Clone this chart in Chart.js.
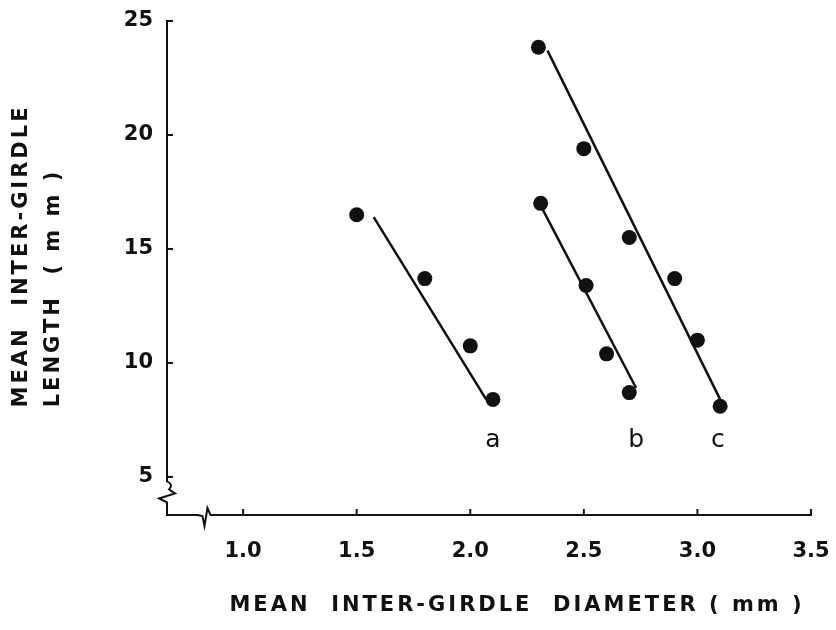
<!DOCTYPE html>
<html>
<head>
<meta charset="utf-8">
<script src="https://cdn.jsdelivr.net/npm/chart.js@4/dist/chart.umd.min.js"></script>
<style>
html,body{margin:0;padding:0;background:#fff;}
canvas{display:block;}
</style>
</head>
<body>
<canvas id="c" width="836" height="630"></canvas>
<script>
// ---- data ----
const xTicks = [1.0, 1.5, 2.0, 2.5, 3.0, 3.5];
const yTicks = [5, 10, 15, 20, 25];

const seriesA_x = [1.5, 1.8, 2.0, 2.1];
const seriesA_y = [16.5, 13.7, 10.75, 8.4];
const seriesB_x = [2.31, 2.51, 2.6, 2.7];
const seriesB_y = [17.0, 13.4, 10.4, 8.7];
const seriesC_x = [2.3, 2.5, 2.7, 2.9, 3.0, 3.1];
const seriesC_y = [23.85, 19.4, 15.5, 13.7, 11.0, 8.1];

const fitA_x = [1.575, 2.07];
const fitA_y = [16.4, 8.4];
const fitB_x = [2.31, 2.73];
const fitB_y = [16.9, 8.9];
const fitC_x = [2.34, 3.10];
const fitC_y = [23.7, 8.4];

const groupLabels = ['a', 'b', 'c'];
const groupLabelX = [2.1, 2.73, 3.09];
const groupLabelY = [6.6, 6.6, 6.6];

const xTitle = 'MEAN  INTER-GIRDLE  DIAMETER ( mm )';
const yTitleLines = ['MEAN  INTER-GIRDLE', 'LENGTH  ( m m )'];

const xMin = 0.665, xMax = 3.5, yMin = 3.33, yMax = 25;
const xBreakAt = 0.83, yBreakAt = 4.1;

const pts = (xs, ys) => xs.map((x, i) => ({x: x, y: ys[i]}));
const INK = '#111';

const pointDs = (xs, ys) => ({
  data: pts(xs, ys), showLine: false, pointRadius: 7.5, pointHoverRadius: 7.5,
  pointBackgroundColor: INK, pointBorderColor: INK, pointBorderWidth: 0
});
const lineDs = (xs, ys) => ({
  data: pts(xs, ys), showLine: true, pointRadius: 0, borderColor: INK,
  borderWidth: 2.5, fill: false
});

const decor = {
  id: 'decor',
  afterDraw(chart) {
    const ctx = chart.ctx;
    const xs = chart.scales.x, ys = chart.scales.y;
    const L = chart.chartArea.left, B = chart.chartArea.bottom;
    ctx.save();
    ctx.strokeStyle = INK;
    ctx.fillStyle = INK;
    ctx.lineWidth = 2;
    // inward tick marks
    xTicks.forEach(v => {
      const px = xs.getPixelForValue(v);
      ctx.beginPath(); ctx.moveTo(px, B); ctx.lineTo(px, B - 6); ctx.stroke();
    });
    yTicks.forEach(v => {
      const py = ys.getPixelForValue(v);
      ctx.beginPath(); ctx.moveTo(L, py); ctx.lineTo(L + 6, py); ctx.stroke();
    });
    // x-axis break
    const bx = xs.getPixelForValue(xBreakAt);
    ctx.fillStyle = '#fff';
    ctx.fillRect(bx - 6, B - 3, 14, 6);
    ctx.beginPath();
    ctx.moveTo(bx - 7, B);
    ctx.lineTo(bx - 2, B + 1);
    ctx.lineTo(bx, B + 11);
    ctx.lineTo(bx + 3, B - 7);
    ctx.lineTo(bx + 6, B);
    ctx.lineTo(bx + 10, B);
    ctx.stroke();
    // y-axis break
    const by = ys.getPixelForValue(yBreakAt);
    ctx.fillStyle = '#fff';
    ctx.fillRect(L - 3, by - 16, 6, 24);
    ctx.beginPath();
    ctx.moveTo(L, by - 20);
    ctx.lineTo(L, by - 16);
    ctx.quadraticCurveTo(L + 7, by - 13, L + 2, by - 8);
    ctx.lineTo(L + 8, by - 4);
    ctx.lineTo(L - 8, by + 1);
    ctx.lineTo(L, by + 5);
    ctx.lineTo(L, by + 10);
    ctx.stroke();
    // group labels
    ctx.fillStyle = INK;
    ctx.font = '25px "DejaVu Sans"';
    ctx.textAlign = 'center';
    ctx.textBaseline = 'middle';
    groupLabels.forEach((t, i) => {
      ctx.fillText(t, xs.getPixelForValue(groupLabelX[i]), ys.getPixelForValue(groupLabelY[i]));
    });
    // axis titles
    ctx.font = 'bold 21px "DejaVu Sans"';
    ctx.letterSpacing = '3px';
    ctx.textAlign = 'center';
    ctx.fillText(xTitle, 517, 606);
    ctx.save();
    ctx.translate(22, 256);
    ctx.rotate(-Math.PI / 2);
    ctx.fillText(yTitleLines[0], 0, 0);
    ctx.restore();
    ctx.save();
    ctx.translate(54, 288);
    ctx.rotate(-Math.PI / 2);
    ctx.fillText(yTitleLines[1], 0, 0);
    ctx.restore();
    ctx.restore();
  }
};

new Chart(document.getElementById('c'), {
  type: 'scatter',
  data: {
    datasets: [
      pointDs(seriesA_x, seriesA_y),
      pointDs(seriesB_x, seriesB_y),
      pointDs(seriesC_x, seriesC_y),
      lineDs(fitA_x, fitA_y),
      lineDs(fitB_x, fitB_y),
      lineDs(fitC_x, fitC_y)
    ]
  },
  options: {
    responsive: false,
    animation: false,
    layout: {padding: {left: 0, top: 21, right: 25, bottom: 0}},
    plugins: {legend: {display: false}, tooltip: {enabled: false}},
    scales: {
      x: {
        type: 'linear', min: xMin, max: xMax,
        afterFit: s => { s.height = 115; s.paddingLeft = 0; s.paddingRight = 0; },
        afterBuildTicks: s => { s.ticks = xTicks.map(v => ({value: v})); },
        grid: {display: false, drawTicks: false},
        border: {display: true, color: INK, width: 2},
        ticks: {
          padding: 24, color: INK, maxRotation: 0, autoSkip: false,
          font: {family: 'DejaVu Sans', size: 21, weight: 'bold'},
          callback: v => v.toFixed(1)
        }
      },
      y: {
        type: 'linear', min: yMin, max: yMax,
        afterFit: s => { s.width = 167; s.paddingTop = 0; s.paddingBottom = 0; },
        afterBuildTicks: s => { s.ticks = yTicks.map(v => ({value: v})); },
        grid: {display: false, drawTicks: false},
        border: {display: true, color: INK, width: 2},
        ticks: {
          padding: 14, color: INK, autoSkip: false,
          font: {family: 'DejaVu Sans', size: 21, weight: 'bold'},
          callback: v => String(v)
        }
      }
    }
  },
  plugins: [decor]
});
</script>
</body>
</html>
